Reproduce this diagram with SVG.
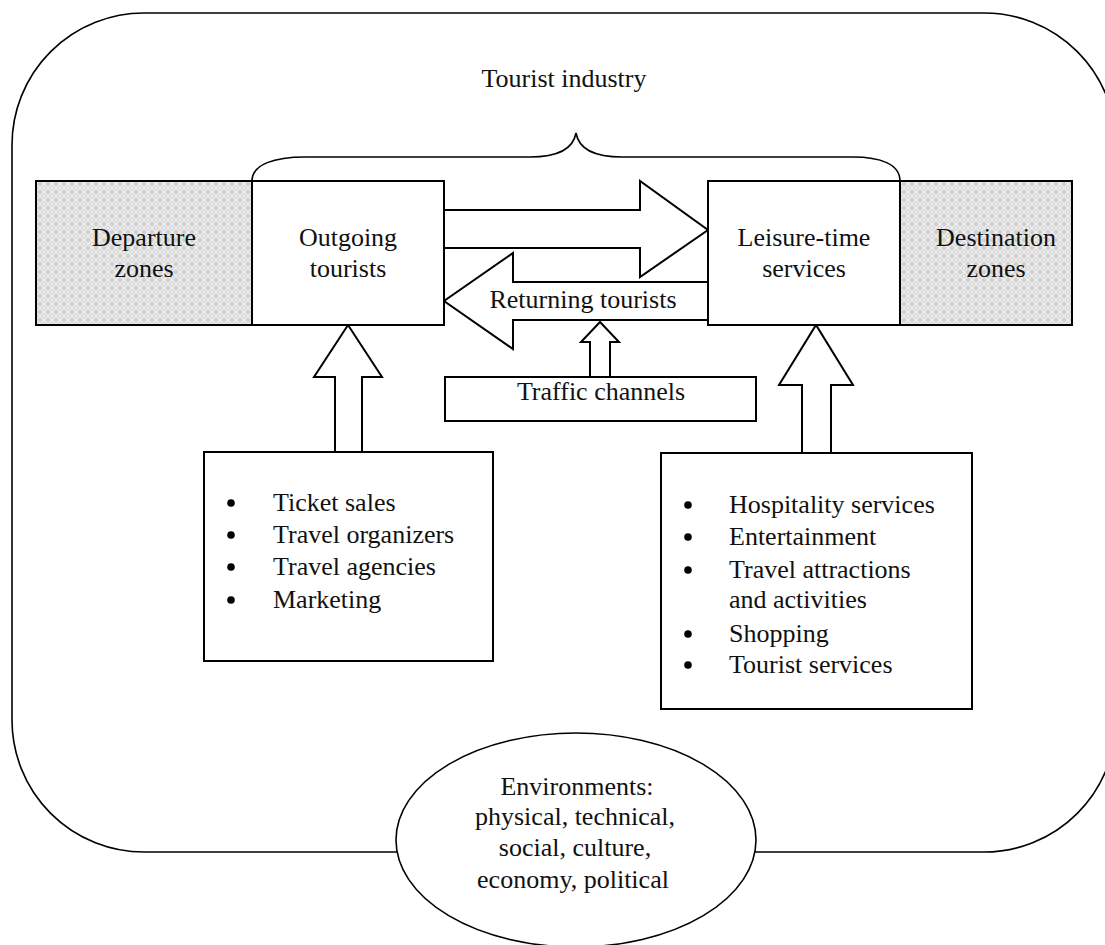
<svg xmlns="http://www.w3.org/2000/svg" width="1105" height="945" viewBox="0 0 1105 945">
<style>
.ln{fill:none;stroke:#000;stroke-width:1.6}
.bx{fill:#fff;stroke:#000;stroke-width:2}
.zone{fill:url(#hatch);stroke:#000;stroke-width:2}
.ar{fill:#fff;stroke:#000;stroke-width:2;stroke-linejoin:miter}
.dot{fill:#000}
text{font-family:"Liberation Serif","Times New Roman",serif;font-size:26px;fill:#111}
.c{text-anchor:middle}
</style>
<defs>
<pattern id="hatch" width="8" height="8" patternUnits="userSpaceOnUse">
<rect width="8" height="8" fill="#d2d2d2"/>
<path d="M0,4 L4,0 L8,4 L4,8 Z" fill="none" stroke="#f4f4f4" stroke-width="1.2"/>
<circle cx="4" cy="4" r="1" fill="#ffffff"/>
</pattern>
</defs>
<rect id="outer" class="ln" x="12" y="13" width="1104" height="839" rx="132" ry="132"/>
<g id="title">
<text class="c" x="564" y="87">Tourist industry</text>
</g>
<g id="brace">
<path class="ln" d="M252,181 C252,164 275,157 305,157 L530,157 C556,157 573,150 576,133 C579,150 596,157 622,157 L853,157 C880,157 900,164 900,181"/>
</g>
<g id="connectors">
<path id="c-outgoing" class="ar" d="M444,210 L640,210 L640,181 L708,230 L640,277 L640,248 L444,248 Z"/>
<path id="c-returning" class="ar" d="M708,282 L513,282 L513,253 L444,301 L513,349 L513,320 L708,320 Z"/>
<path id="c-traffic" class="ar" d="M590,377 L590,342 L581,342 L600,322 L619,342 L610,342 L610,377"/>
<path id="c-left-up" class="ar" d="M335,452 L335,377 L314,377 L348,325 L382,377 L362,377 L362,452"/>
<path id="c-right-up" class="ar" d="M802,453 L802,385 L779,385 L816,325 L853,385 L831,385 L831,453"/>
<text class="c" x="583" y="308">Returning tourists</text>
</g>
<g id="departure">
<rect class="zone" x="36" y="181" width="216" height="144"/>
<text class="c" x="144" y="246">Departure</text>
<text class="c" x="144" y="277">zones</text>
</g>
<g id="outgoing">
<rect class="bx" x="252" y="181" width="192" height="144"/>
<text class="c" x="348" y="246">Outgoing</text>
<text class="c" x="348" y="277">tourists</text>
</g>
<g id="leisure">
<rect class="bx" x="708" y="181" width="192" height="144"/>
<text class="c" x="804" y="246">Leisure-time</text>
<text class="c" x="804" y="277">services</text>
</g>
<g id="destination">
<rect class="zone" x="900" y="181" width="172" height="144"/>
<text class="c" x="996" y="246">Destination</text>
<text class="c" x="996" y="277">zones</text>
</g>
<g id="traffic">
<rect class="bx" x="445" y="377" width="311" height="44"/>
<text class="c" x="601" y="400">Traffic channels</text>
</g>
<g id="left-list">
<rect class="bx" x="204" y="452" width="289" height="209"/>
<circle class="dot" cx="231" cy="503" r="3.8"/><text x="273" y="511">Ticket sales</text>
<circle class="dot" cx="231" cy="535" r="3.8"/><text x="273" y="543">Travel organizers</text>
<circle class="dot" cx="231" cy="567" r="3.8"/><text x="273" y="575">Travel agencies</text>
<circle class="dot" cx="231" cy="600" r="3.8"/><text x="273" y="608">Marketing</text>
</g>
<g id="right-list">
<rect class="bx" x="661" y="453" width="311" height="256"/>
<circle class="dot" cx="688" cy="505" r="3.8"/><text x="729" y="513">Hospitality services</text>
<circle class="dot" cx="688" cy="537" r="3.8"/><text x="729" y="545">Entertainment</text>
<circle class="dot" cx="688" cy="570" r="3.8"/><text x="729" y="578">Travel attractions</text>
<text x="729" y="608">and activities</text>
<circle class="dot" cx="688" cy="634" r="3.8"/><text x="729" y="642">Shopping</text>
<circle class="dot" cx="688" cy="665" r="3.8"/><text x="729" y="673">Tourist services</text>
</g>
<g id="environments">
<ellipse cx="576" cy="840" rx="180" ry="107" fill="#fff" stroke="#000" stroke-width="1.6"/>
<text class="c" x="577" y="795">Environments:</text>
<text class="c" x="575" y="825">physical, technical,</text>
<text class="c" x="575" y="856">social, culture,</text>
<text class="c" x="573" y="888">economy, political</text>
</g>
</svg>
